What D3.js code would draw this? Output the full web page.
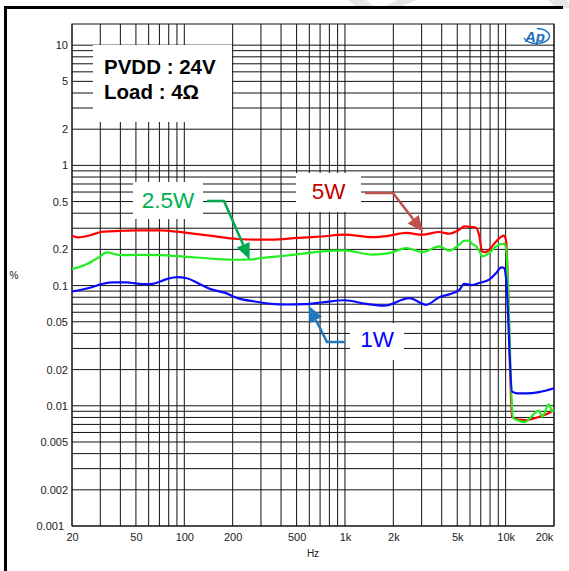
<!DOCTYPE html>
<html>
<head>
<meta charset="utf-8">
<script src="https://cdn.jsdelivr.net/npm/d3@7"></script>
<style>
  body { margin: 0; background: #fff; }
  svg { display: block; }
  text { font-family: "Liberation Sans", Arial, Helvetica, sans-serif; }
</style>
</head>
<body>
<svg id="chart" width="569" height="571"></svg>
<script>
// THD+N (%) versus frequency (Hz), PVDD 24 V, 4 ohm load
const freq5W = [20, 21.8, 25.9, 31.1, 39.7, 50.7, 70.4, 90, 104, 144, 215, 286, 349, 507, 714, 992,
  1481, 1888, 2408, 3028, 3862, 4455, 5140, 5521, 6192, 6555, 6842, 7142, 7500, 7896, 8729, 9784,
  10068, 10968, 11780, 13397, 16140, 18620, 20000];
const thd5W = [0.260, 0.252, 0.262, 0.281, 0.285, 0.288, 0.288, 0.281, 0.274, 0.260, 0.244, 0.241, 0.241, 0.249, 0.256, 0.265,
  0.253, 0.260, 0.274, 0.265, 0.279, 0.270, 0.291, 0.311, 0.307, 0.303, 0.262, 0.192, 0.190, 0.199, 0.233, 0.260,
  0.235, 0.0081, 0.0077, 0.0076, 0.0081, 0.0087, 0.0093];

const freq2W5 = [20, 25, 29, 33, 39.7, 50.7, 70.4, 100, 144, 215, 260, 286, 439, 714, 992,
  1481, 1888, 2408, 3028, 3862, 4455, 5140, 5521, 5930, 6192, 6555, 6842, 7142, 7896, 8729, 9784,
  10068, 11126, 11780, 13020, 16140, 16848, 18620, 19438, 20000];
const thd2W5 = [0.137, 0.152, 0.170, 0.189, 0.179, 0.180, 0.179, 0.174, 0.168, 0.164, 0.165, 0.168, 0.178, 0.192, 0.196,
  0.181, 0.186, 0.205, 0.190, 0.212, 0.195, 0.219, 0.236, 0.237, 0.223, 0.212, 0.195, 0.175, 0.186, 0.212, 0.223,
  0.205, 0.0079, 0.0076, 0.0073, 0.0091, 0.0081, 0.0103, 0.0090, 0.0093];

const freq1W = [20, 25.9, 31.1, 36, 43.9, 50.7, 58.5, 63.7, 77.8, 89.8, 103.6, 130, 144, 180, 215, 274, 349, 439,
  560, 714, 992, 1350, 1750, 2514, 3206, 3862, 4455, 5140, 5521, 6192, 6842, 7896, 8729, 9373, 9784,
  10068, 10968, 11780, 13397, 16140, 20000];
const thd1W = [0.0893, 0.096, 0.1035, 0.1065, 0.1065, 0.104, 0.1029, 0.1035, 0.1133, 0.1177, 0.115, 0.1002, 0.094, 0.087, 0.0787, 0.0737, 0.0705, 0.0696,
  0.0700, 0.0723, 0.0755, 0.0705, 0.0680, 0.0785, 0.0692, 0.0800, 0.0845, 0.0920, 0.1035, 0.1010, 0.1050, 0.1120, 0.1270, 0.1420, 0.1400,
  0.1150, 0.0131, 0.0127, 0.0127, 0.0130, 0.0140];

const xTicks = [20, 50, 100, 200, 500, 1000, 2000, 5000, 10000, 20000];
const xTickLabels = ["20", "50", "100", "200", "500", "1k", "2k", "5k", "10k", "20k"];
const yTicks = [10, 5, 2, 1, 0.5, 0.2, 0.1, 0.05, 0.02, 0.01, 0.005, 0.002, 0.001];
const yTickLabels = ["10", "5", "2", "1", "0.5", "0.2", "0.1", "0.05", "0.02", "0.01", "0.005", "0.002", "0.001"];

const seriesNames = ["5W", "2.5W", "1W"];
const lineColors = ["#ff0000", "#22ee22", "#0a0aff"];
// where each label's arrow points: [frequency, THD+N]
const pointerFreq = [3060, 255, 594];
const pointerThd = [0.28, 0.165, 0.068];

const svg = d3.select("#chart");
const plot = { left: 72, right: 554, top: 24, bottom: 526 };

const x = d3.scaleLog().domain([20, 20000]).range([plot.left, plot.right]);
const y = d3.scaleLog().domain([0.001, 15]).range([plot.bottom, plot.top]);

// watermark fragments and outer frame
const wm = svg.append("g").attr("fill", "#e6e6e6");
wm.append("polygon").attr("points", "348,0 366,0 376,8 358,8");
wm.append("polygon").attr("points", "398,0 416,0 398,8 380,8");
wm.append("polygon").attr("points", "548,0 566,0 569,3 569,8 556,8");

svg.append("line").attr("x1", 5).attr("x2", 563).attr("y1", 7.5).attr("y2", 7.5)
  .attr("stroke", "#000").attr("stroke-width", 3);
svg.append("line").attr("x1", 5.5).attr("x2", 5.5).attr("y1", 6).attr("y2", 571)
  .attr("stroke", "#000").attr("stroke-width", 3);

// grid
const grid = svg.append("g").attr("stroke", "#111").attr("stroke-width", 1);
grid.selectAll("line.v").data(x.ticks()).join("line").attr("class", "v")
  .attr("x1", d => x(d)).attr("x2", d => x(d)).attr("y1", plot.top).attr("y2", plot.bottom);
grid.selectAll("line.h").data(y.ticks()).join("line").attr("class", "h")
  .attr("x1", plot.left).attr("x2", plot.right).attr("y1", d => y(d)).attr("y2", d => y(d));
svg.append("rect").attr("x", plot.left).attr("y", plot.top)
  .attr("width", plot.right - plot.left).attr("height", plot.bottom - plot.top)
  .attr("fill", "none").attr("stroke", "#111").attr("stroke-width", 1);

// axes
const yAxis = svg.append("g").attr("transform", `translate(${plot.left},0)`)
  .call(d3.axisLeft(y).tickValues(yTicks).tickFormat((d, i) => yTickLabels[i]).tickSize(0).tickPadding(4));
const xAxis = svg.append("g").attr("transform", `translate(0,${plot.bottom})`)
  .call(d3.axisBottom(x).tickValues(xTicks).tickFormat((d, i) => xTickLabels[i]).tickSize(0).tickPadding(7));
[yAxis, xAxis].forEach(a => {
  a.select(".domain").remove();
  a.selectAll("text").attr("font-size", 11).attr("fill", "#222")
    .style("font-family", '"Liberation Sans", Arial, sans-serif');
});
yAxis.selectAll("text").filter(d => d === 0.001).attr("dx", -4);
xAxis.selectAll("text").filter(d => d === 20000).attr("dx", -10);

svg.append("text").attr("x", 313).attr("y", 557).attr("text-anchor", "middle")
  .attr("font-size", 10).attr("fill", "#222").text("Hz");
svg.append("text").attr("x", 14).attr("y", 279).attr("text-anchor", "middle")
  .attr("font-size", 10).attr("fill", "#222").text("%");

// condition box
svg.append("rect").attr("x", 93).attr("y", 45).attr("width", 139).attr("height", 77).attr("fill", "#fff");
svg.append("text").attr("x", 104).attr("y", 73.5).attr("font-size", 20.5).attr("font-weight", "bold")
  .attr("fill", "#000").text("PVDD : 24V");
svg.append("text").attr("x", 104).attr("y", 99).attr("font-size", 20.5).attr("font-weight", "bold")
  .attr("fill", "#000").text("Load : 4Ω");

// Ap logo
const logo = svg.append("g");
logo.append("path").attr("d", "M537,28.5 A13,7.5 0 1 1 524,38")
  .attr("fill", "none").attr("stroke", "#1f6fbf").attr("stroke-width", 1.3);
logo.append("text").attr("x", 535).attr("y", 41.5).attr("text-anchor", "middle")
  .attr("font-size", 15).attr("font-weight", "bold").attr("font-style", "italic")
  .attr("fill", "#1f6fbf").text("Ap");

// curves
const line = d3.line().x(d => x(d[0])).y(d => y(d[1])).curve(d3.curveMonotoneX);
const series = [
  d3.zip(freq5W, thd5W),
  d3.zip(freq2W5, thd2W5),
  d3.zip(freq1W, thd1W)
];
svg.append("g").selectAll("path").data(series).join("path")
  .attr("d", line).attr("fill", "none")
  .attr("stroke", (d, i) => lineColors[i]).attr("stroke-width", 2.2)
  .attr("stroke-linejoin", "round");

// labels with pointer arrows
const labels = [
  { box: [296, 173, 65, 39], tx: 328.5, ty: 198.5, textColor: "#c00000", arrowColor: "#c0504d", shaft: [[365, 193], [393, 193]] },
  { box: [133, 182, 70, 37], tx: 168, ty: 207.5, textColor: "#00b050", arrowColor: "#00a84f", shaft: [[207, 201], [224, 201]] },
  { box: [350, 323, 54, 37], tx: 377, ty: 347, textColor: "#0000ff", arrowColor: "#1e78c0", shaft: [[345, 342], [327, 342]] }
];
labels.forEach((L, i) => {
  const g = svg.append("g");
  g.append("rect").attr("x", L.box[0]).attr("y", L.box[1]).attr("width", L.box[2]).attr("height", L.box[3])
    .attr("fill", "#fff");
  g.append("text").attr("x", L.tx).attr("y", L.ty).attr("text-anchor", "middle")
    .attr("font-size", 22.5).attr("fill", L.textColor).text(seriesNames[i]);
  const tip = [x(pointerFreq[i]), y(pointerThd[i])];
  const prev = L.shaft[L.shaft.length - 1];
  const dx = tip[0] - prev[0], dy = tip[1] - prev[1];
  const len = Math.hypot(dx, dy), ux = dx / len, uy = dy / len;
  const hl = 16, hw = 7;
  const base = [tip[0] - ux * hl, tip[1] - uy * hl];
  g.append("path").attr("d", d3.line()([...L.shaft, base]))
    .attr("fill", "none").attr("stroke", L.arrowColor).attr("stroke-width", 2.5);
  g.append("polygon").attr("points", [
    tip, [base[0] - uy * hw, base[1] + ux * hw], [base[0] + uy * hw, base[1] - ux * hw]
  ].map(p => p.join(",")).join(" ")).attr("fill", L.arrowColor);
});
</script>
</body>
</html>
